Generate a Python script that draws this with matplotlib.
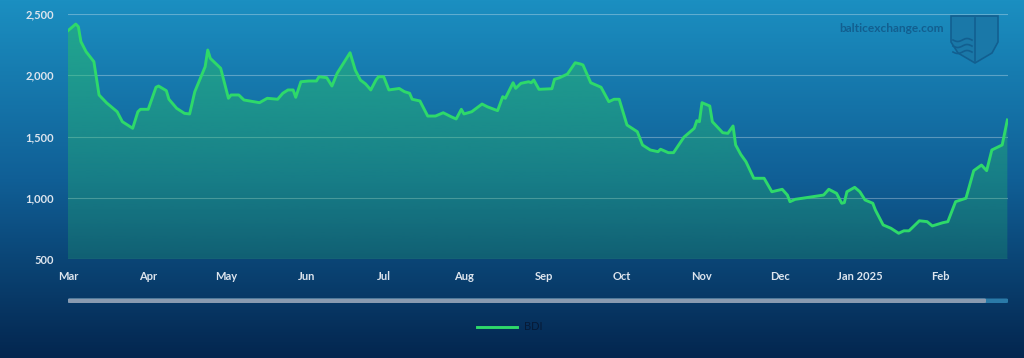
import matplotlib
matplotlib.use("Agg")
import matplotlib.pyplot as plt
import matplotlib.dates as mdates
from matplotlib.patches import FancyBboxPatch, Polygon
from matplotlib.colors import LinearSegmentedColormap
import numpy as np
import pandas as pd

# BDI values (Mar 2024 - Feb 2025)
dates = [
    "2024-03-01", "2024-03-04", "2024-03-05", "2024-03-06", "2024-03-08", "2024-03-11",
    "2024-03-13", "2024-03-16", "2024-03-20", "2024-03-22", "2024-03-24", "2024-03-26",
    "2024-03-28", "2024-03-29", "2024-04-01", "2024-04-04", "2024-04-05", "2024-04-08",
    "2024-04-09", "2024-04-12", "2024-04-15", "2024-04-17", "2024-04-19", "2024-04-23",
    "2024-04-24", "2024-04-25", "2024-04-29", "2024-05-02", "2024-05-03", "2024-05-06",
    "2024-05-08", "2024-05-14", "2024-05-17", "2024-05-21", "2024-05-23", "2024-05-25",
    "2024-05-27", "2024-05-28", "2024-05-30", "2024-06-02", "2024-06-05", "2024-06-06",
    "2024-06-09", "2024-06-11", "2024-06-13", "2024-06-18", "2024-06-20", "2024-06-22",
    "2024-06-24", "2024-06-26", "2024-06-28", "2024-06-29", "2024-07-01", "2024-07-03",
    "2024-07-07", "2024-07-09", "2024-07-11", "2024-07-12", "2024-07-15", "2024-07-18",
    "2024-07-21", "2024-07-24", "2024-07-27", "2024-07-29", "2024-07-31", "2024-08-01",
    "2024-08-04", "2024-08-08", "2024-08-10", "2024-08-14", "2024-08-16", "2024-08-17",
    "2024-08-20", "2024-08-21", "2024-08-23", "2024-08-26", "2024-08-27", "2024-08-28",
    "2024-08-30", "2024-09-04", "2024-09-05", "2024-09-07", "2024-09-10", "2024-09-13",
    "2024-09-15", "2024-09-16", "2024-09-19", "2024-09-23", "2024-09-26", "2024-09-28",
    "2024-09-30", "2024-10-03", "2024-10-07", "2024-10-09", "2024-10-12", "2024-10-15",
    "2024-10-16", "2024-10-19", "2024-10-21", "2024-10-25", "2024-10-29", "2024-10-30",
    "2024-10-31", "2024-11-01", "2024-11-04", "2024-11-05", "2024-11-09", "2024-11-11",
    "2024-11-13", "2024-11-14", "2024-11-16", "2024-11-18", "2024-11-21", "2024-11-25",
    "2024-11-28", "2024-12-02", "2024-12-04", "2024-12-05", "2024-12-07", "2024-12-18",
    "2024-12-20", "2024-12-23", "2024-12-25", "2024-12-26", "2024-12-27", "2024-12-30",
    "2025-01-01", "2025-01-03", "2025-01-06", "2025-01-07", "2025-01-10", "2025-01-13",
    "2025-01-16", "2025-01-18", "2025-01-20", "2025-01-24", "2025-01-27", "2025-01-29",
    "2025-02-02", "2025-02-04", "2025-02-07", "2025-02-11", "2025-02-14", "2025-02-17",
    "2025-02-19", "2025-02-21", "2025-02-25", "2025-02-27",
]
bdi = [
    2364, 2418, 2396, 2274, 2192, 2111,
    1839, 1773, 1702, 1621, 1594, 1567,
    1702, 1722, 1722, 1902, 1912, 1874,
    1804, 1730, 1689, 1684, 1866, 2070,
    2206, 2138, 2057, 1812, 1839, 1839,
    1798, 1776, 1812, 1804, 1853, 1880,
    1880, 1820, 1947, 1953, 1953, 1988,
    1980, 1912, 2016, 2184, 2043, 1961,
    1929, 1880, 1961, 1988, 1988, 1880,
    1892, 1866, 1853, 1804, 1790, 1667,
    1667, 1694, 1662, 1643, 1722, 1684,
    1702, 1765, 1743, 1711, 1825, 1812,
    1939, 1893, 1934, 1947, 1939, 1961,
    1885, 1890, 1967, 1980, 2010, 2102,
    2092, 2084, 1939, 1902, 1784, 1804,
    1804, 1594, 1539, 1431, 1390, 1376,
    1396, 1368, 1368, 1494, 1567, 1629,
    1621, 1776, 1749, 1621, 1531, 1526,
    1586, 1431, 1353, 1294, 1159, 1159,
    1049, 1069, 1022, 968, 987, 1022,
    1069, 1036, 955, 960, 1049, 1085,
    1049, 982, 955, 900, 778, 751,
    710, 730, 730, 812, 805, 770,
    796, 805, 968, 996, 1221, 1267,
    1221, 1390, 1431, 1635,
]
y_ticks = [500, 1000, 1500, 2000, 2500]
month_labels = ["Mar", "Apr", "May", "Jun", "Jul", "Aug", "Sep", "Oct", "Nov", "Dec", "Jan 2025", "Feb"]

x = pd.to_datetime(dates)
W, H = 1024, 358

plt.rcParams['font.family'] = ['Lato', 'DejaVu Sans']

fig = plt.figure(figsize=(W / 100, H / 100), dpi=100)

# page background gradient
bg = fig.add_axes([0, 0, 1, 1], zorder=-10)
bg_cmap = LinearSegmentedColormap.from_list(
    "bg", [(0.0, "#1b8fc1"), (0.5, "#105f96"), (1.0, "#04264f")])
bg.imshow(np.linspace(0, 1, 256).reshape(-1, 1), aspect="auto", cmap=bg_cmap,
          extent=[0, 1, 0, 1], origin="upper")
bg.set_axis_off()

# plot area
left, right = 68 / W, 1008 / W
top, bottom = 1 - 14 / H, 1 - 259 / H
ax = fig.add_axes([left, bottom, right - left, top - bottom])
ax.patch.set_alpha(0)

x0 = pd.Timestamp("2024-03-01")
x1 = pd.Timestamp("2025-02-27 06:00")

# grid
for v in y_ticks:
    ax.axhline(v, color="white", alpha=0.3 if v > 500 else 0.45, lw=0.8, zorder=1)

# area fill with vertical fade
line_col = "#2ed96a"
poly = ax.fill_between(x, bdi, 500, color="none", lw=0)
grad = np.zeros((256, 1, 4))
grad[:, 0, 0] = 40 / 255
grad[:, 0, 1] = 190 / 255
grad[:, 0, 2] = 105 / 255
grad[:, 0, 3] = np.linspace(0.55, 0.22, 256)
xn0, xn1 = mdates.date2num(x0), mdates.date2num(x1)
im = ax.imshow(grad, aspect="auto", extent=[xn0, xn1, 500, 2500], origin="upper", zorder=2)
im.set_clip_path(poly.get_paths()[0], transform=ax.transData)
ax.set_xlim(x0, x1)
ax.set_ylim(500, 2500)

line, = ax.plot(x, bdi, color=line_col, lw=2.1, solid_joinstyle="round", zorder=3, label="BDI")

# ticks
ax.set_yticks(y_ticks)
ax.set_yticklabels([f"{v:,}" for v in y_ticks])
months = pd.date_range("2024-03-01", periods=12, freq="MS")
ax.set_xticks(months)
ax.set_xticklabels(month_labels)
ax.tick_params(axis="both", length=0, colors="#dde5ee", labelsize=8)
ax.tick_params(axis="y", pad=10)
ax.tick_params(axis="x", pad=9)
for lab in ax.get_xticklabels() + ax.get_yticklabels():
    lab.set_fontweight("bold")
for s in ax.spines.values():
    s.set_visible(False)

# scrollbar under the chart
bar_y = 1 - 303 / H
bar_h = 4.5 / H
fig.patches.append(FancyBboxPatch((68 / W, bar_y), (1008 - 68) / W, bar_h,
                                  boxstyle="round,pad=0,rounding_size=0.002",
                                  transform=fig.transFigure, fc="#2a7aa8", ec="none"))
fig.patches.append(FancyBboxPatch((68 / W, bar_y), (986 - 68) / W, bar_h,
                                  boxstyle="round,pad=0,rounding_size=0.002",
                                  transform=fig.transFigure, fc="#8a9bb0", ec="none"))

# legend
leg = ax.legend(handles=[line], loc="center", bbox_to_anchor=(510 / W, 1 - 327 / H),
                bbox_transform=fig.transFigure, frameon=False, fontsize=8,
                handlelength=3.6, handletextpad=0.6)
for t in leg.get_texts():
    t.set_color("#061a36")

# watermark
wm = "#125f90"
fig.text(944 / W, 1 - 29 / H, "balticexchange.com", color=wm, fontsize=8.6,
         fontweight="bold", ha="right", va="center")
shield = [(951, 16), (998, 16), (998, 42), (992, 53), (975, 63), (958, 53), (951, 42)]
fig.patches.append(Polygon([(px / W, 1 - py / H) for px, py in shield], closed=True,
                           transform=fig.transFigure, fc="#1a78a8", ec=wm, lw=1.2))
for wy in (40, 46, 52):
    xs = np.linspace(953, 972, 30)
    ys = wy + 1.5 * np.sin((xs - 953) / 3.0)
    fig.add_artist(plt.Line2D(xs / W, 1 - ys / H, color=wm, lw=1.2, transform=fig.transFigure))
fig.add_artist(plt.Line2D([975 / W, 975 / W], [1 - 18 / H, 1 - 61 / H], color=wm, lw=1.2,
                          transform=fig.transFigure))

fig.savefig("out.png", dpi=100)
